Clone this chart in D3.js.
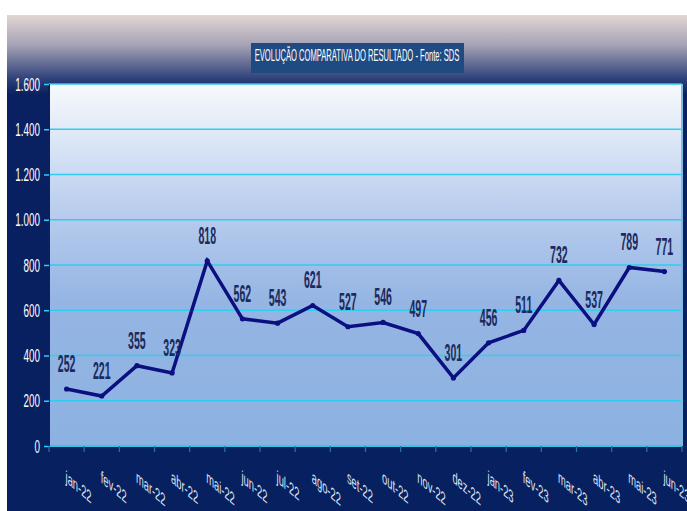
<!DOCTYPE html>
<html><head><meta charset="utf-8">
<script src="https://cdn.jsdelivr.net/npm/d3@7"></script>
<style>body{margin:0;background:#fff}svg{display:block}</style>
</head><body>
<script>
const categories = ["jan-22","fev-22","mar-22","abr-22","mai-22","jun-22","jul-22","ago-22","set-22","out-22","nov-22","dez-22","jan-23","fev-23","mar-23","abr-23","mai-23","jun-23"];
const values = [252,221,355,323,818,562,543,621,527,546,497,301,456,511,732,537,789,771];
const yTicks = [0,200,400,600,800,1000,1200,1400,1600];
const title = "EVOLUÇÃO COMPARATIVA DO RESULTADO - Fonte: SDS";

const W = 687, H = 511;
const svg = d3.select("body").append("svg").attr("width", W).attr("height", H);
const defs = svg.append("defs");

const bg = defs.append("linearGradient").attr("id","bg").attr("x1",0).attr("y1",0).attr("x2",0).attr("y2",1);
bg.append("stop").attr("offset","0").attr("stop-color","#e3d6d2");
bg.append("stop").attr("offset","0.06").attr("stop-color","#a6a3b6");
bg.append("stop").attr("offset","0.13").attr("stop-color","#2c3f78");
bg.append("stop").attr("offset","0.16").attr("stop-color","#0a2060");
bg.append("stop").attr("offset","1").attr("stop-color","#072060");

const pg = defs.append("linearGradient").attr("id","pg").attr("x1",0).attr("y1",0).attr("x2",0).attr("y2",1);
pg.append("stop").attr("offset","0").attr("stop-color","#f7fafd");
pg.append("stop").attr("offset","0.35").attr("stop-color","#b9cdee");
pg.append("stop").attr("offset","0.6").attr("stop-color","#95b5e3");
pg.append("stop").attr("offset","1").attr("stop-color","#8cb2e2");

svg.append("rect").attr("x",7).attr("y",15).attr("width",W-7).attr("height",H-15).attr("fill","url(#bg)");

// title
svg.append("rect").attr("x",251).attr("y",43).attr("width",213).attr("height",30).attr("fill","#1f4a82");
const tt = svg.append("text").attr("text-anchor","middle")
  .attr("font-family","Liberation Sans Narrow, Liberation Sans, Arial").attr("font-size",17)
  .attr("fill","#ffffff").text(title);
const tw = tt.node().getComputedTextLength();
tt.attr("transform",`translate(357,61) scale(${205/tw},1)`);

const m = {l:49, r:682, t:84, b:446};
const x = d3.scaleBand().domain(categories).range([m.l, m.r]);
const y = d3.scaleLinear().domain([0,1600]).range([m.b, m.t]);

svg.append("rect").attr("x",m.l).attr("y",m.t).attr("width",m.r-m.l).attr("height",m.b-m.t).attr("fill","url(#pg)");

// gridlines
svg.append("g").selectAll("line").data(yTicks.filter(d=>d>0)).join("line")
  .attr("x1",m.l).attr("x2",m.r).attr("y1",d=>y(d)).attr("y2",d=>y(d))
  .attr("stroke","#2fcdf0").attr("stroke-width",1.5);

// borders
svg.append("line").attr("x1",m.r).attr("x2",m.r).attr("y1",m.t).attr("y2",m.b).attr("stroke","#7fb9e8").attr("stroke-width",2);
svg.append("line").attr("x1",m.l).attr("x2",m.r).attr("y1",m.b).attr("y2",m.b).attr("stroke","#35c6ec").attr("stroke-width",2);
svg.append("line").attr("x1",m.l).attr("x2",m.l).attr("y1",m.t).attr("y2",m.b).attr("stroke","#0a2060").attr("stroke-width",2);

// y axis
const ya = svg.append("g").attr("transform",`translate(${m.l},0)`)
  .call(d3.axisLeft(y).tickValues(yTicks).tickSize(5).tickFormat(d=>d3.format(",")(d).replace(/,/g,".")));
ya.select(".domain").remove();
ya.selectAll(".tick line").attr("stroke","#2fcdf0").attr("stroke-width",1.5);
ya.selectAll(".tick text").each(function(){
  d3.select(this).attr("x",null).attr("dy",null).attr("font-family","Liberation Sans, Arial").attr("font-size",18)
   .attr("fill","#ffffff").attr("text-anchor","end")
   .attr("transform","translate(-9,6) scale(0.55,1)");
});

// x axis
const xa = svg.append("g").attr("transform",`translate(0,${m.b})`)
  .call(d3.axisBottom(x).tickSize(6).tickFormat(""));
xa.select(".domain").remove();
xa.selectAll(".tick line").attr("stroke","#2f6fb0").attr("stroke-width",1.2)
  .attr("transform", d=>`translate(${-x.bandwidth()/2},0)`);
svg.append("line").attr("x1",m.r).attr("x2",m.r).attr("y1",m.b).attr("y2",m.b+6).attr("stroke","#2f6fb0").attr("stroke-width",1.2);

svg.append("g").selectAll("text").data(categories).join("text")
  .attr("transform", d=>`translate(${x(d)+x.bandwidth()/2-1},${m.b+36}) skewY(40) scale(0.55,1)`)
  .attr("font-family","Liberation Sans, Arial").attr("font-size",17).attr("fill","#dfe3ee")
  .text(d=>d);

// line
const cx = (d,i)=>x(categories[i])+x.bandwidth()/2;
const line = d3.line().x((d,i)=>cx(d,i)).y(d=>y(d));
svg.append("path").datum(values).attr("d",line).attr("fill","none")
  .attr("stroke","#0b0f80").attr("stroke-width",3.5).attr("stroke-linejoin","miter");
svg.append("g").selectAll("circle").data(values).join("circle")
  .attr("cx",(d,i)=>cx(d,i)).attr("cy",d=>y(d)).attr("r",2.6).attr("fill","#0b0f80");

// labels
svg.append("g").selectAll("text").data(values).join("text")
  .attr("transform",(d,i)=>`translate(${cx(d,i)},${y(d)-17}) scale(0.46,1)`)
  .attr("text-anchor","middle").attr("font-family","Liberation Sans, Arial").attr("font-weight","bold")
  .attr("font-size",23).attr("fill","#1c2a5e").text(d=>d);
</script>
</body></html>
